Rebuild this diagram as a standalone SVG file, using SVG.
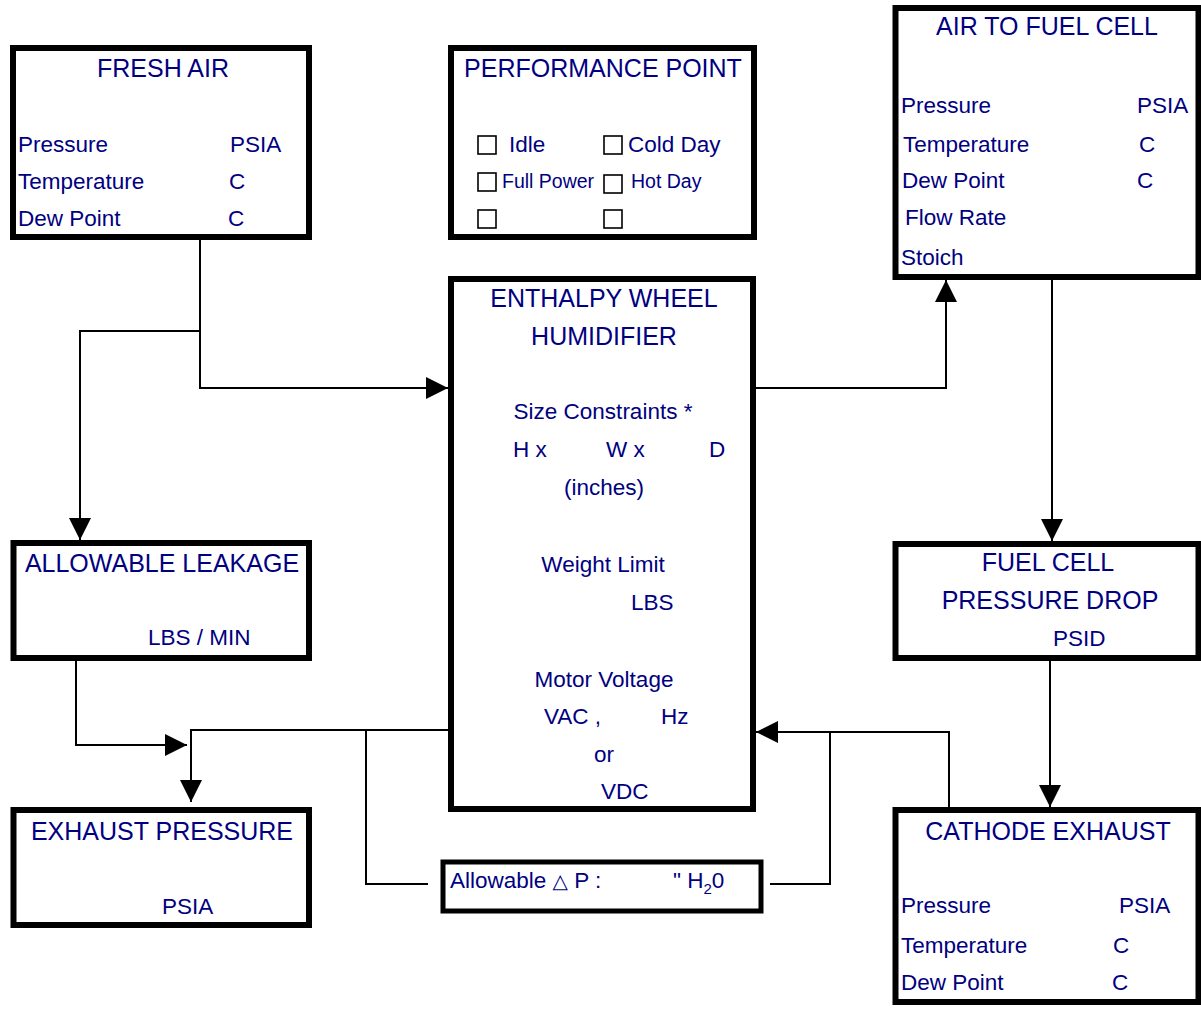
<svg xmlns="http://www.w3.org/2000/svg" width="1201" height="1015" viewBox="0 0 1201 1015">
<style>
.box{fill:#fff;stroke:#000;stroke-width:6}
.cb{fill:#fff;stroke:#000;stroke-width:1.6}
.t{font-family:"Liberation Sans",Arial,sans-serif;font-size:25px;fill:#000080}
.b{font-family:"Liberation Sans",Arial,sans-serif;font-size:22.5px;fill:#000080}
.s{font-family:"Liberation Sans",Arial,sans-serif;font-size:19.5px;fill:#000080}
.m{text-anchor:middle}
.c{fill:none;stroke:#000;stroke-width:2}
.a{marker-end:url(#arr)}
</style>
<defs>
<marker id="arr" markerUnits="userSpaceOnUse" markerWidth="22" markerHeight="22" refX="22" refY="11" orient="auto" viewBox="0 0 22 22">
<path d="M0,0 L22,11 L0,22 z" fill="#000"/>
</marker>
</defs>
<rect width="1201" height="1015" fill="#fff"/>
<g id="connectors">
<path class="c a" d="M200,240 V388 H448"/>
<path class="c a" d="M200,331 H80 V540"/>
<path class="c a" d="M756,388 H946 V280"/>
<path class="c a" d="M1052,280 V541"/>
<path class="c a" d="M1050,660 V807"/>
<path class="c a" d="M949,807 V732 H756"/>
<path class="c" d="M830,732 V884 H770"/>
<path class="c a" d="M76,660 V745 H187"/>
<path class="c a" d="M448,730 H191 V802"/>
<path class="c" d="M366,730 V884 H428"/>
</g>
<g id="fresh-air">
<rect class="box" x="13" y="48" width="296" height="189"/>
<text class="t m" x="163" y="77">FRESH AIR</text>
<text class="b" x="18" y="152">Pressure</text>
<text class="b" x="230" y="152">PSIA</text>
<text class="b" x="18" y="189">Temperature</text>
<text class="b" x="229" y="189">C</text>
<text class="b" x="18" y="226">Dew Point</text>
<text class="b" x="228" y="226">C</text>
</g>
<g id="performance-point">
<rect class="box" x="451" y="48" width="303" height="189"/>
<text class="t m" x="603" y="77">PERFORMANCE POINT</text>
<rect class="cb" x="478" y="136" width="18" height="18"/>
<rect class="cb" x="604" y="136" width="18" height="18"/>
<rect class="cb" x="478" y="173" width="18" height="18"/>
<rect class="cb" x="604" y="175" width="18" height="18"/>
<rect class="cb" x="478" y="210" width="18" height="18"/>
<rect class="cb" x="604" y="210" width="18" height="18"/>
<text class="b" x="509" y="152">Idle</text>
<text class="b" x="628" y="152">Cold Day</text>
<text class="s" x="502" y="188">Full Power</text>
<text class="s" x="631" y="188">Hot Day</text>
</g>
<g id="air-to-fuel-cell">
<rect class="box" x="895.5" y="8" width="303" height="269"/>
<text class="t m" x="1047" y="35">AIR TO FUEL CELL</text>
<text class="b" x="901" y="113">Pressure</text>
<text class="b" x="1137" y="113">PSIA</text>
<text class="b" x="903" y="152">Temperature</text>
<text class="b" x="1139" y="152">C</text>
<text class="b" x="902" y="188">Dew Point</text>
<text class="b" x="1137" y="188">C</text>
<text class="b" x="905" y="225">Flow Rate</text>
<text class="b" x="901" y="265">Stoich</text>
</g>
<g id="enthalpy-wheel">
<rect class="box" x="451" y="279" width="302" height="530"/>
<text class="t m" x="604" y="307">ENTHALPY WHEEL</text>
<text class="t m" x="604" y="345">HUMIDIFIER</text>
<text class="b m" x="603" y="419">Size Constraints *</text>
<text class="b" x="513" y="457">H x</text>
<text class="b" x="606" y="457">W x</text>
<text class="b" x="709" y="457">D</text>
<text class="b m" x="604" y="495">(inches)</text>
<text class="b m" x="603" y="572">Weight Limit</text>
<text class="b" x="631" y="610">LBS</text>
<text class="b m" x="604" y="687">Motor Voltage</text>
<text class="b" x="544" y="724">VAC ,</text>
<text class="b" x="661" y="724">Hz</text>
<text class="b" x="594" y="762">or</text>
<text class="b" x="601" y="799">VDC</text>
</g>
<g id="allowable-leakage">
<rect class="box" x="13.5" y="543" width="295.5" height="115"/>
<text class="t m" x="162" y="572">ALLOWABLE LEAKAGE</text>
<text class="b" x="148" y="645">LBS / MIN</text>
</g>
<g id="fuel-cell-pressure-drop">
<rect class="box" x="895.5" y="544" width="303" height="114"/>
<text class="t m" x="1048" y="571">FUEL CELL</text>
<text class="t m" x="1050" y="609">PRESSURE DROP</text>
<text class="b" x="1053" y="646">PSID</text>
</g>
<g id="exhaust-pressure">
<rect class="box" x="13.5" y="810" width="295.5" height="115"/>
<text class="t m" x="162" y="840">EXHAUST PRESSURE</text>
<text class="b" x="162" y="914">PSIA</text>
</g>
<g id="cathode-exhaust">
<rect class="box" x="895.5" y="810" width="303" height="192"/>
<text class="t m" x="1048" y="840">CATHODE EXHAUST</text>
<text class="b" x="901" y="913">Pressure</text>
<text class="b" x="1119" y="913">PSIA</text>
<text class="b" x="901" y="953">Temperature</text>
<text class="b" x="1113" y="953">C</text>
<text class="b" x="901" y="990">Dew Point</text>
<text class="b" x="1112" y="990">C</text>
</g>
<g id="allowable-dp">
<rect class="box" x="443" y="862" width="318" height="49" style="stroke-width:5"/>
<text class="b" x="450" y="888">Allowable <tspan font-family="'DejaVu Sans',sans-serif" font-size="20">△</tspan> P :</text>
<text class="b" x="673" y="888">" H<tspan font-size="15" dy="6">2</tspan><tspan dy="-6">0</tspan></text>
</g>
</svg>
